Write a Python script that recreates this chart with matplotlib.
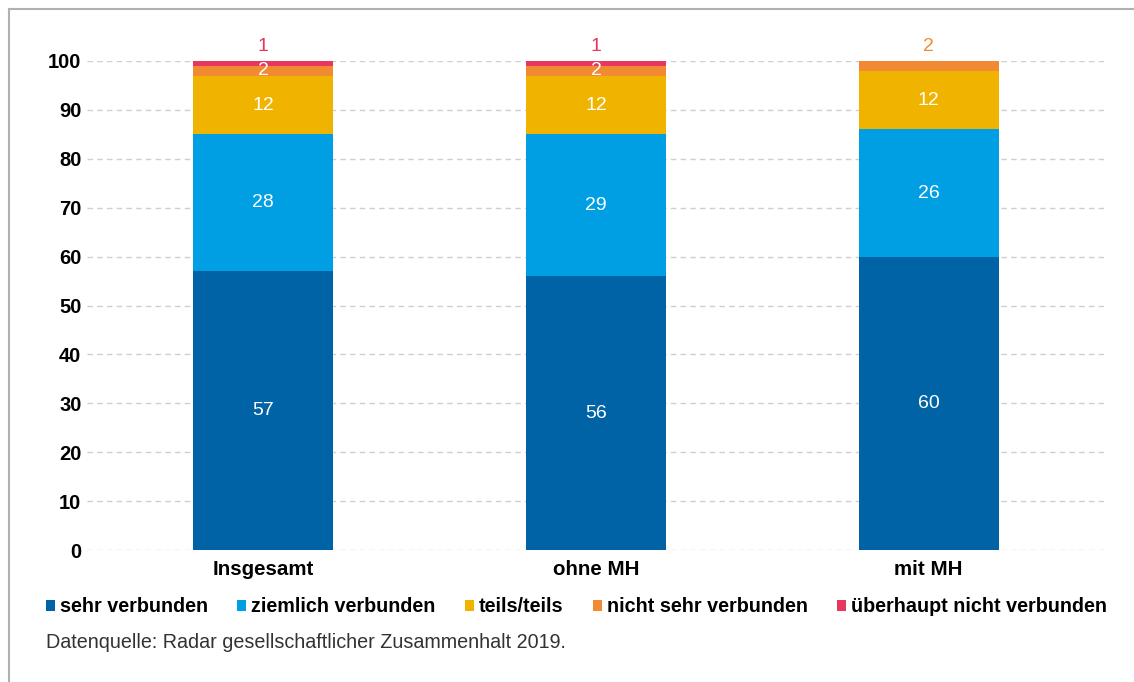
import matplotlib
matplotlib.use("Agg")
import matplotlib.pyplot as plt
from matplotlib.patches import Patch
from matplotlib.lines import Line2D
import numpy as np

plt.rcParams['font.family'] = ['Liberation Sans', 'DejaVu Sans']

categories = ["Insgesamt", "ohne MH", "mit MH"]
series_names = ["sehr verbunden", "ziemlich verbunden", "teils/teils",
                "nicht sehr verbunden", "überhaupt nicht verbunden"]
sehr = [57, 56, 60]
ziemlich = [28, 29, 26]
teils = [12, 12, 12]
nicht_sehr = [2, 2, 2]
ueberhaupt = [1, 1, 0]
series_values = [sehr, ziemlich, teils, nicht_sehr, ueberhaupt]
colors = ["#0063A6", "#009FE3", "#F0B400", "#F18A33", "#E8375F"]
yticks = [0, 10, 20, 30, 40, 50, 60, 70, 80, 90, 100]
source = "Datenquelle: Radar gesellschaftlicher Zusammenhalt 2019."

W, H = 1134, 682
fig = plt.figure(figsize=(W / 100, H / 100), dpi=100)
ax = fig.add_axes([87 / W, 1 - 550 / H, (1105 - 87) / W, (550 - 61) / H])

x = np.arange(len(categories))
bottom = np.zeros(len(categories))
bar_w = 0.42
for vals, col in zip(series_values, colors):
    vals = np.array(vals, dtype=float)
    ax.bar(x, vals, bar_w, bottom=bottom, color=col, linewidth=0, zorder=3)
    bottom += vals

# value labels: white inside, topmost thin segment labelled above the bar
totals = bottom
for i in range(len(categories)):
    base = 0.0
    top_idx = max(k for k in range(len(series_values)) if series_values[k][i] > 0)
    for k, vals in enumerate(series_values):
        v = vals[i]
        if v <= 0:
            continue
        if k == top_idx and v <= 2:
            ax.text(x[i], totals[i] + 1.3, f"{v:g}", ha="center", va="bottom",
                    color=colors[k], fontsize=14, clip_on=False)
        else:
            ax.text(x[i], base + v / 2, f"{v:g}", ha="center", va="center",
                    color="white", fontsize=14, zorder=4)
        base += v

ax.set_xlim(-0.53, 2.53)
ax.set_ylim(0, 100)
ax.set_yticks(yticks)
ax.set_yticklabels([str(t) for t in yticks], fontsize=14.5, fontweight="bold")
ax.set_xticks(x)
ax.set_xticklabels(categories, fontsize=14.8, fontweight="bold")
ax.tick_params(axis="both", length=0)
ax.tick_params(axis="y", pad=4)
ax.tick_params(axis="x", pad=7)
for s in ax.spines.values():
    s.set_visible(False)
ax.yaxis.grid(True, color="#cfcfcf", linestyle=(0, (4, 3)), linewidth=1, zorder=0)
ax.set_axisbelow(True)

handles = [Patch(facecolor=c, edgecolor="none") for c in colors]
fig.legend(handles, series_names, ncol=5, loc="center left",
           bbox_to_anchor=(38 / W, 1 - 607 / H), frameon=False,
           handlelength=0.45, handleheight=0.45, handletextpad=0.25,
           columnspacing=1.5, borderaxespad=0,
           prop={"weight": "bold", "size": 14.2})

fig.text(46 / W, 1 - 643 / H, source, fontsize=14.2, color="#333333",
         ha="left", va="center")

# frame lines along the top and left edge of the figure
fig.add_artist(Line2D([9 / W, 1], [1 - 9 / H, 1 - 9 / H], color="#b0b0b0",
                      linewidth=1.5, transform=fig.transFigure))
fig.add_artist(Line2D([9 / W, 9 / W], [0, 1 - 9 / H], color="#b0b0b0",
                      linewidth=1.5, transform=fig.transFigure))

fig.savefig("out.png", dpi=100, facecolor="white")
